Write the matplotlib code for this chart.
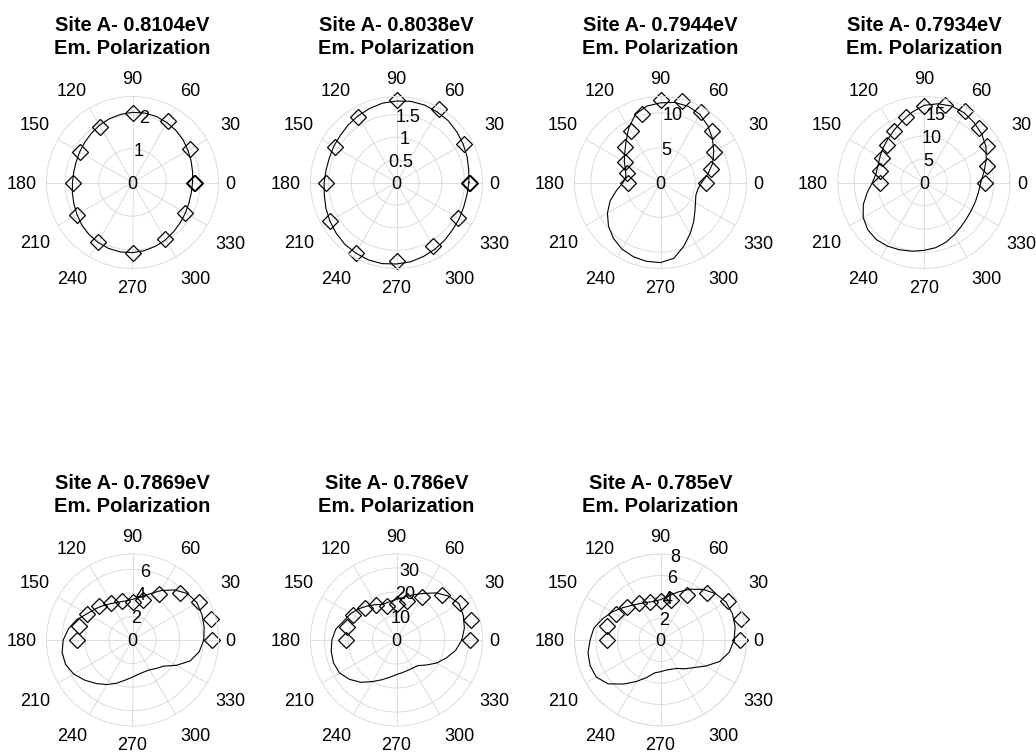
import numpy as np
import matplotlib
matplotlib.use("Agg")
import matplotlib.pyplot as plt

plt.rcParams['font.family'] = ['Liberation Sans', 'DejaVu Sans']

# ---------------- data ----------------
titles = ["Site A- 0.8104eV", "Site A- 0.8038eV", "Site A- 0.7944eV", "Site A- 0.7934eV",
          "Site A- 0.7869eV", "Site A- 0.786eV", "Site A- 0.785eV"]
subtitle = "Em. Polarization"

angles_full = [0, 30, 60, 90, 120, 150, 180, 210, 240, 270, 300, 330, 360]
angles_half = [0, 15, 30, 45, 60, 75, 90, 105, 120, 135, 150, 165, 180]
curve_angles = list(range(0, 360, 10))

data1 = [1.81, 1.97, 2.09, 2.05, 1.91, 1.80, 1.75, 1.91, 2.05, 2.08, 1.92, 1.79, 1.84]
data2 = [1.60, 1.71, 1.88, 1.83, 1.68, 1.56, 1.55, 1.69, 1.79, 1.74, 1.63, 1.57, 1.62]
data3 = [6.6, 7.5, 8.86, 10.4, 11.7, 12.05, 11.9, 10.2, 8.5, 7.2, 5.9, 5.0, 4.7]
data4 = [13.2, 14.0, 15.7, 16.7, 17.8, 17.3, 16.5, 14.6, 12.9, 11.4, 10.5, 9.7, 9.5]
data5 = [6.73, 6.9, 6.5, 5.66, 4.46, 3.5, 3.19, 3.4, 3.64, 4.08, 4.44, 4.74, 4.67]
data6 = [30.8, 31.9, 30.4, 26.5, 20.9, 16.6, 15.0, 14.8, 17.0, 18.7, 20.8, 21.2, 21.1]
data7 = [7.44, 7.71, 7.28, 6.14, 4.87, 3.86, 3.63, 3.67, 3.97, 4.39, 4.78, 5.16, 5.02]

# fitted curves, radius every 10 degrees (0..350)
curve1 = [1.78, 1.81, 1.85, 1.90, 1.96, 2.01, 2.05, 2.08, 2.09, 2.08, 2.05, 2.01,
          1.96, 1.90, 1.85, 1.81, 1.78, 1.77, 1.78, 1.81, 1.85, 1.90, 1.96, 2.01,
          2.05, 2.08, 2.09, 2.08, 2.05, 2.01, 1.96, 1.90, 1.85, 1.81, 1.78, 1.77]
curve2 = [1.60, 1.62, 1.66, 1.70, 1.74, 1.78, 1.80, 1.82, 1.82, 1.80, 1.78, 1.74,
          1.70, 1.66, 1.62, 1.60, 1.58, 1.58, 1.60, 1.62, 1.66, 1.70, 1.74, 1.78,
          1.80, 1.82, 1.82, 1.80, 1.78, 1.74, 1.70, 1.66, 1.62, 1.60, 1.58, 1.58]
curve3 = [5.9, 6.9, 7.95, 8.83, 9.75, 10.6, 11.3, 11.65, 11.68, 11.44, 11.15, 10.45,
          9.1, 7.7, 6.7, 6.0, 5.35, 5.05, 5.35, 6.4, 7.7, 8.8, 9.75, 10.5,
          11.05, 11.35, 11.5, 11.5, 11.05, 9.75, 8.5, 7.4, 6.45, 5.8, 5.4, 5.45]
curve4 = [12.2, 13.1, 14.25, 15.4, 16.2, 16.8, 17.3, 17.5, 17.2, 16.6, 15.3, 14.0,
          12.95, 12.15, 11.5, 10.95, 10.55, 10.5, 11.1, 12.4, 13.9, 15.1, 15.8, 16.0,
          15.8, 15.4, 15.0, 14.6, 14.25, 13.7, 13.0, 12.4, 12.0, 11.8, 11.8, 11.9]
curve5 = [6.05, 6.18, 6.28, 6.32, 6.12, 5.55, 4.85, 4.15, 3.67, 3.45, 3.37, 3.42,
          3.58, 3.82, 4.12, 4.45, 5.05, 5.52, 5.88, 6.07, 6.05, 5.77, 5.30, 4.82,
          4.37, 3.9, 3.45, 3.15, 2.95, 2.88, 2.92, 3.15, 3.45, 4.3, 5.2, 5.75]
curve6 = [27.2, 28.7, 29.6, 30.1, 28.4, 25.6, 22.4, 20.0, 18.1, 16.9, 16.2, 15.9,
          17.0, 18.6, 20.3, 22.0, 23.3, 25.7, 26.9, 27.6, 27.9, 27.4, 25.5, 23.0,
          20.0, 17.6, 15.7, 14.4, 13.8, 13.5, 13.5, 13.9, 16.2, 19.2, 22.0, 25.0]
curve7 = [6.85, 7.05, 7.12, 7.05, 6.7, 6.15, 5.45, 4.75, 4.15, 3.75, 3.65, 3.72,
          3.9, 4.2, 4.65, 5.2, 5.75, 6.3, 6.55, 6.85, 6.97, 6.9, 6.35, 5.35,
          4.45, 3.7, 3.1, 2.95, 2.85, 2.9, 3.05, 3.5, 4.0, 4.85, 5.85, 6.5]

rmax = [2.55, 1.9, 12.35, 18.5, 7.3, 35.8, 8.0]
rticks = [[0, 1, 2], [0, 0.5, 1, 1.5], [0, 5, 10], [0, 5, 10, 15],
          [0, 2, 4, 6], [0, 10, 20, 30], [0, 2, 4, 6, 8]]
theta_labels = [0, 30, 60, 90, 120, 150, 180, 210, 240, 270, 300, 330]

datas = [data1, data2, data3, data4, data5, data6, data7]
data_angles = [angles_full, angles_full, angles_half, angles_half,
               angles_half, angles_half, angles_half]
curves = [curve1, curve2, curve3, curve4, curve5, curve6, curve7]

# ---------------- layout ----------------
W, H = 1036, 754
fig = plt.figure(figsize=(W / 100, H / 100), dpi=100)
R = 86.0
centers = [(132.5, 182.5), (396.5, 182.5), (660.5, 182.5), (924.0, 182.5),
           (132.5, 640.0), (396.5, 640.0), (660.5, 640.0)]
# centre offsets (px) of the angle labels from the polar origin
label_dx = [98, 97.5, 57.5, 0, -60.5, -97.5, -111, -97.5, -60.5, 0, 62.5, 97.5]
label_dy = [0, 59, 92.5, 105, 92.5, 59, 0, -59.5, -94.5, -104, -94.5, -60]
gc = '#dcdcdc'
tick_fs = 13
title_fs = 14.5

def fmt(v):
    return ('%g' % v)

for i in range(7):
    cx, cy = centers[i]
    ax = fig.add_axes([(cx - R) / W, (H - cy - R) / H, 2 * R / W, 2 * R / H],
                      projection='polar')
    ax.set_thetagrids(theta_labels, labels=[''] * len(theta_labels))
    ax.set_rgrids([t for t in rticks[i] if t > 0], labels=[''] * (len(rticks[i]) - 1))
    ax.set_ylim(0, rmax[i])
    ax.grid(True, color=gc, lw=0.7)
    ax.spines['polar'].set_color(gc)
    ax.spines['polar'].set_linewidth(0.7)
    ax.tick_params(length=0)
    ax.set_facecolor('white')

    # angle labels around the circle
    for k, a in enumerate(theta_labels):
        ax.text(0.5 + label_dx[k] / (2 * R), 0.5 + label_dy[k] / (2 * R), str(a),
                transform=ax.transAxes, ha='center', va='center_baseline',
                fontsize=tick_fs, clip_on=False)

    # fitted curve (closed)
    th = np.deg2rad(curve_angles + [360])
    rr = curves[i] + [curves[i][0]]
    ax.plot(th, rr, color='black', lw=0.8, clip_on=False)
    # data diamonds
    ax.plot(np.deg2rad(data_angles[i]), datas[i], ls='none', marker='D', ms=8.5,
            mfc='none', mec='black', mew=0.9, clip_on=False)

    # radial labels
    for t in rticks[i]:
        ax.text(np.deg2rad(80), t, fmt(t), ha='center', va='center_baseline',
                fontsize=tick_fs, zorder=5)

    # titles
    top = cy - R
    fig.text(cx / W, 1 - (top - 73) / H, titles[i], ha='center', va='center_baseline',
             fontsize=title_fs, fontweight='bold')
    fig.text(cx / W, 1 - (top - 49.5) / H, subtitle, ha='center', va='center_baseline',
             fontsize=title_fs, fontweight='bold')

fig.savefig('out.png', dpi=100, facecolor='white')
